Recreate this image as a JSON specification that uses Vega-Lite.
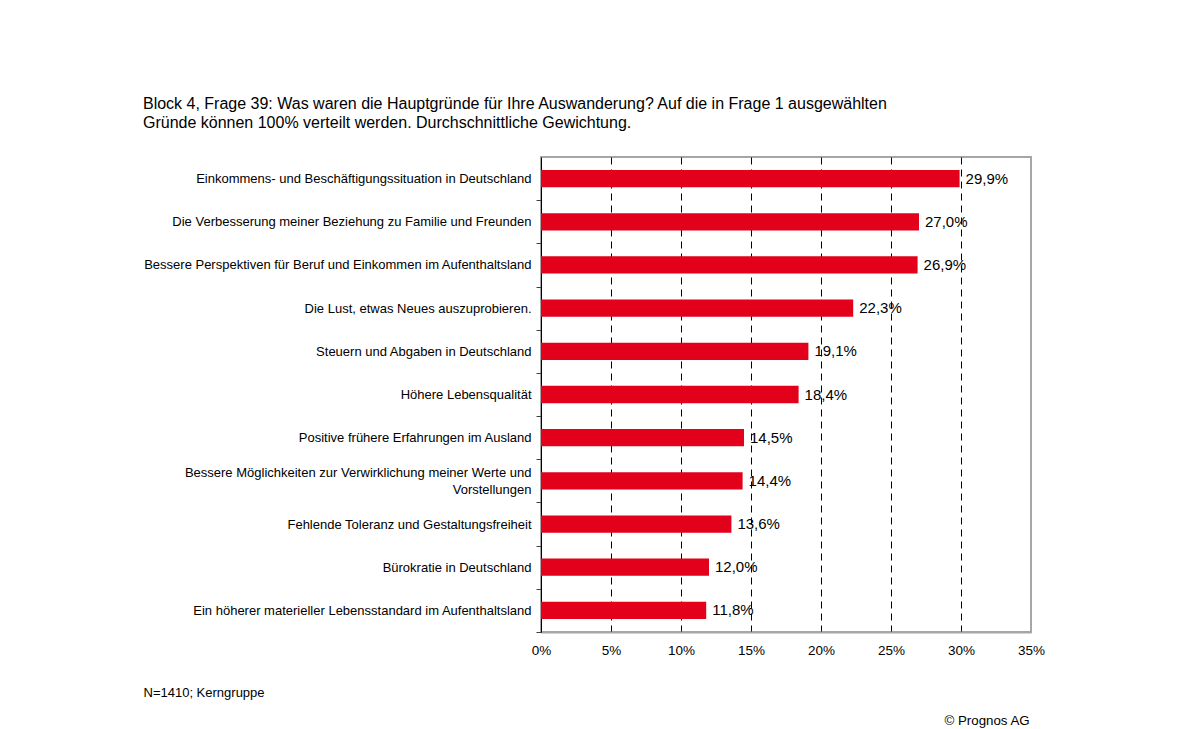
{
  "$schema": "https://vega.github.io/schema/vega-lite/v6.json",
  "width": 490,
  "height": 475,
  "autosize": {"type": "none"},
  "padding": {"left": 541, "top": 157, "right": 160, "bottom": 97},
  "background": "white",
  "config": {
    "locale": {"number": {"decimal": ",", "thousands": ".", "grouping": [3], "currency": ["", " €"]}},
    "view": {"stroke": "#a6a6a6", "strokeWidth": 2},
    "font": "Liberation Sans"
  },
  "title": {
    "text": ["Block 4, Frage 39: Was waren die Hauptgründe für Ihre Auswanderung? Auf die in Frage 1 ausgewählten", "Gründe können 100% verteilt werden. Durchschnittliche Gewichtung."],
    "anchor": "start",
    "frame": "bounds",
    "offset": 26,
    "fontSize": 16,
    "fontWeight": "normal",
    "font": "Liberation Sans",
    "color": "black",
    "lineHeight": 19
  },
  "data": {
    "values": [
      {"reason": "Einkommens- und Beschäftigungssituation in Deutschland", "share": 0.299},
      {"reason": "Die Verbesserung meiner Beziehung zu Familie und Freunden", "share": 0.270},
      {"reason": "Bessere Perspektiven für Beruf und Einkommen im Aufenthaltsland", "share": 0.269},
      {"reason": "Die Lust, etwas Neues auszuprobieren.", "share": 0.223},
      {"reason": "Steuern und Abgaben in Deutschland", "share": 0.191},
      {"reason": "Höhere Lebensqualität", "share": 0.184},
      {"reason": "Positive frühere Erfahrungen im Ausland", "share": 0.145},
      {"reason": "Bessere Möglichkeiten zur Verwirklichung meiner Werte und Vorstellungen", "share": 0.144},
      {"reason": "Fehlende Toleranz und Gestaltungsfreiheit", "share": 0.136},
      {"reason": "Bürokratie in Deutschland", "share": 0.120},
      {"reason": "Ein höherer materieller Lebensstandard im Aufenthaltsland", "share": 0.118}
    ]
  },
  "layer": [
    {
      "mark": {"type": "bar", "color": "#E2001A"},
      "encoding": {
        "y": {
          "field": "reason",
          "type": "nominal",
          "sort": null,
          "scale": {"paddingInner": 0.6, "paddingOuter": 0.3},
          "axis": {
            "domainColor": "black",
            "domainWidth": 1,
            "tickColor": "#404040",
            "tickSize": 5,
            "tickOffset": 21.59,
            "labelOffset": {"condition": {"test": "length(datum.value) > 65", "value": -30.1}, "value": -21.59},
            "labelPadding": 5,
            "labelFontSize": 13,
            "labelColor": "black",
            "labelLimit": 0,
            "labelLineHeight": 17,
            "labelExpr": "length(datum.value) > 65 ? [substring(datum.value, 0, 57), substring(datum.value, 58)] : datum.value",
            "title": "N=1410; Kerngruppe",
            "titleAngle": 0,
            "titleX": -398,
            "titleY": 535,
            "titleAlign": "left",
            "titleBaseline": "middle",
            "titleFontWeight": "normal",
            "titleFontSize": 13,
            "titleColor": "black"
          }
        },
        "x": {
          "field": "share",
          "type": "quantitative",
          "scale": {"domain": [0, 0.35], "nice": false},
          "axis": {
            "values": [0, 0.05, 0.1, 0.15, 0.2, 0.25, 0.3, 0.35],
            "format": ".0%",
            "grid": true,
            "gridColor": "black",
            "gridDash": [7, 5],
            "gridWidth": 1,
            "gridOpacity": {"condition": {"test": "datum.value < 0.001 || datum.value > 0.349", "value": 0}, "value": 1},
            "ticks": false,
            "labelFlush": false,
            "labelPadding": 11,
            "labelFontSize": 13.5,
            "labelColor": "black",
            "domainColor": "#a6a6a6",
            "domainWidth": 2,
            "title": "© Prognos AG",
            "titleX": 403,
            "titleY": 88,
            "titleAlign": "left",
            "titleBaseline": "middle",
            "titleFontWeight": "normal",
            "titleFontSize": 13.3,
            "titleColor": "black"
          }
        }
      }
    },
    {
      "mark": {"type": "text", "align": "left", "baseline": "middle", "dx": 6, "fontSize": 15, "color": "black"},
      "encoding": {
        "y": {"field": "reason", "type": "nominal", "sort": null},
        "x": {"field": "share", "type": "quantitative"},
        "text": {"field": "share", "type": "quantitative", "format": ".1%"}
      }
    }
  ]
}
